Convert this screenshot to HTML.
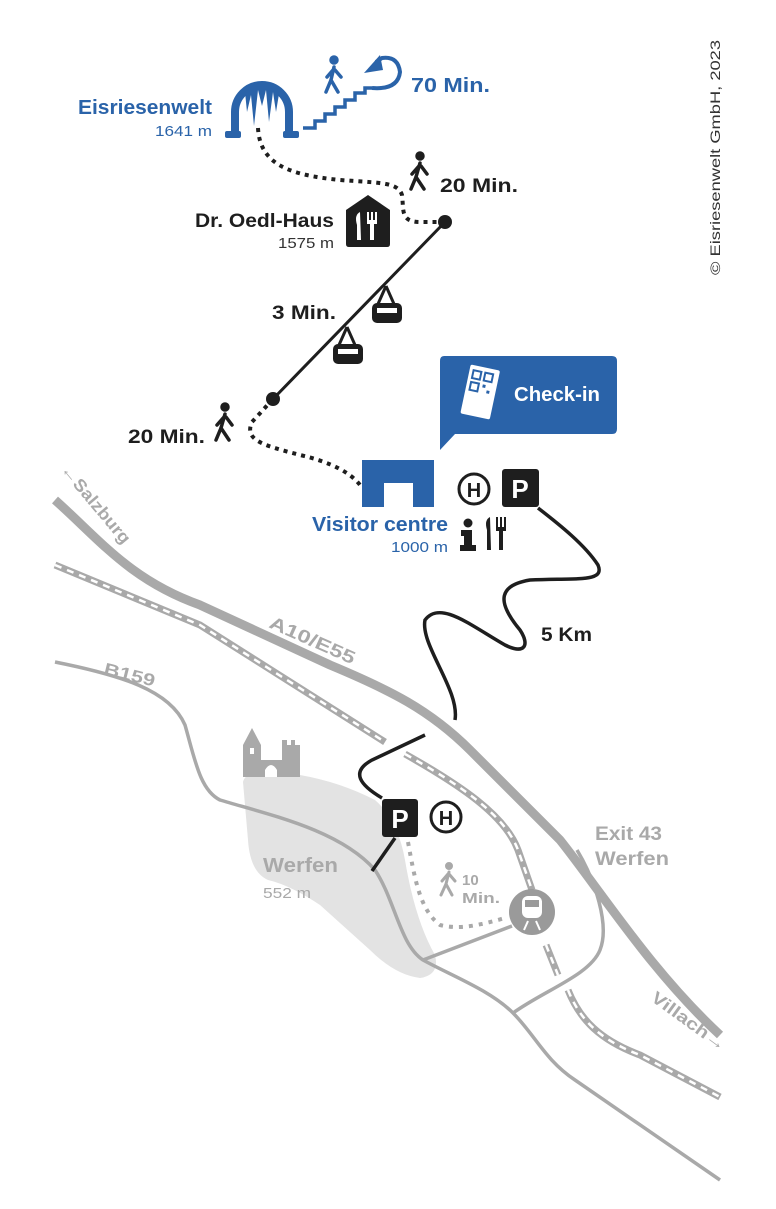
<!DOCTYPE html>
<html><head><meta charset="utf-8"><style>
html,body{margin:0;padding:0;background:#fff}
svg{display:block}
text{font-family:"Liberation Sans",sans-serif}
</style></head><body>
<svg width="776" height="1209" viewBox="0 0 776 1209" xmlns="http://www.w3.org/2000/svg">
<path d="M243,782 Q245,772 265,772 L300,775 Q340,782 375,800 Q398,820 405,860 Q415,920 435,955 Q440,975 420,978 Q395,975 370,950 L320,905 Q290,885 268,880 Q250,872 248,840 Z" fill="#e3e3e3"/>
<g fill="#a9a9a9">
<path d="M243,745 L252,728 L261,745 L261,760 L282,760 L282,740 L287,740 L287,745 L291,745 L291,740 L295,740 L295,745 L300,745 L300,777 L243,777 Z"/>
</g>
<path d="M265,777 L265,770 Q271,760 277,770 L277,777 Z" fill="#fff"/>
<rect x="250" y="748" width="4" height="6" fill="#fff"/>
<g fill="none" stroke="#a9a9a9" stroke-linecap="butt">
<path d="M55,500 C100,540 130,580 200,605 L330,665 C390,690 430,710 470,750 L560,840 C600,890 650,970 720,1035" stroke-width="9"/>
<path d="M55,565 L200,625 L385,742" stroke-width="7"/>
<path d="M405,754 C460,785 505,815 518,850 L532,890" stroke-width="7"/>
<path d="M546,945 L558,975" stroke-width="7"/>
<path d="M568,990 C580,1020 600,1040 640,1055 L720,1097" stroke-width="7"/>
<path d="M55,662 C120,675 170,690 185,725 C195,760 200,790 220,800 C270,815 340,830 375,870 C395,900 400,945 423,960 C450,975 490,990 513,1013 C535,1035 545,1060 575,1080 L720,1180" stroke-width="3.5"/>
<path d="M577,850 C595,880 610,925 600,950 C590,975 545,990 513,1013" stroke-width="3.5"/>
<path d="M423,960 L512,926" stroke-width="3.5"/>
</g>
<g fill="none" stroke="#fff" stroke-width="2.5" stroke-dasharray="7,6">
<path d="M55,565 L200,625 L385,742"/>
<path d="M405,754 C460,785 505,815 518,850 L532,890"/>
<path d="M546,945 L558,975"/>
<path d="M568,990 C580,1020 600,1040 640,1055 L720,1097"/>
</g>
<path d="M408,842 C415,880 420,910 440,925 C460,930 480,925 505,918" fill="none" stroke="#a9a9a9" stroke-width="4" stroke-dasharray="4,6"/>
<circle cx="532" cy="912" r="23" fill="#9a9a9a"/>
<rect x="522" y="896" width="20" height="22" rx="6" fill="#fff"/>
<rect x="525" y="900" width="14" height="7" fill="#9a9a9a"/>
<path d="M524,930 L528,921 M540,930 L536,921" stroke="#fff" stroke-width="2"/>
<g stroke="#a9a9a9" stroke-width="3" fill="none" stroke-linecap="round"><circle cx="449" cy="866" r="2.5" fill="#a9a9a9"/><path d="M449,872 L446,884 L441,895 M446,884 L452,895 M448,874 L442,881 M449,874 L455,881"/></g>
<g fill="#a9a9a9" font-weight="bold">
<text x="263" y="872" font-size="20" textLength="75" lengthAdjust="spacingAndGlyphs">Werfen</text>
<text x="263" y="898" font-size="15" font-weight="normal" textLength="48" lengthAdjust="spacingAndGlyphs">552 m</text>
<text x="462" y="885" font-size="15">10</text>
<text x="462" y="903" font-size="15" textLength="38" lengthAdjust="spacingAndGlyphs">Min.</text>
<text x="595" y="840" font-size="19" textLength="67" lengthAdjust="spacingAndGlyphs">Exit 43</text>
<text x="595" y="865" font-size="19" textLength="74" lengthAdjust="spacingAndGlyphs">Werfen</text>
<text transform="translate(268,627) rotate(24)" font-size="18" textLength="92" lengthAdjust="spacingAndGlyphs">A10/E55</text>
<text transform="translate(103,674) rotate(14)" font-size="17" textLength="52" lengthAdjust="spacingAndGlyphs">B159</text>
<text transform="translate(60,470) rotate(50)" font-size="17" textLength="98" lengthAdjust="spacingAndGlyphs">←Salzburg</text>
<text transform="translate(650,1000) rotate(36)" font-size="17" textLength="88" lengthAdjust="spacingAndGlyphs">Villach→</text>
</g>
<path d="M538,508 C560,525 585,545 598,565 C605,582 580,578 530,580 C500,585 495,600 520,630 C530,645 525,655 505,645 C470,625 440,600 425,620 C420,645 460,690 455,720 M425,735 L372,760 C350,772 360,785 382,798 M395,838 L372,871" fill="none" stroke="#1e1e1e" stroke-width="3.5"/>
<text x="541" y="641" font-size="19" font-weight="bold" fill="#1e1e1e" textLength="51" lengthAdjust="spacingAndGlyphs">5 Km</text>
<rect x="382" y="799" width="36" height="38" rx="3" fill="#1e1e1e"/>
<text x="400" y="828" font-size="26" font-weight="bold" fill="#fff" text-anchor="middle">P</text>
<circle cx="446" cy="817" r="15" fill="none" stroke="#1e1e1e" stroke-width="3"/>
<text x="446" y="825" font-size="20" font-weight="bold" fill="#1e1e1e" text-anchor="middle">H</text>
<path d="M362,460 L434,460 L434,507 L413,507 L413,483 L384,483 L384,507 L362,507 Z" fill="#2a63a9"/>
<text x="312" y="531" font-size="20" font-weight="bold" fill="#2a63a9" textLength="136" lengthAdjust="spacingAndGlyphs">Visitor centre</text>
<text x="391" y="552" font-size="15" fill="#2a63a9" textLength="57" lengthAdjust="spacingAndGlyphs">1000 m</text>
<circle cx="474" cy="489" r="15" fill="none" stroke="#1e1e1e" stroke-width="3"/>
<text x="474" y="497" font-size="20" font-weight="bold" fill="#1e1e1e" text-anchor="middle">H</text>
<rect x="502" y="469" width="37" height="38" rx="3" fill="#1e1e1e"/>
<text x="520" y="498" font-size="26" font-weight="bold" fill="#fff" text-anchor="middle">P</text>
<g fill="#1e1e1e"><circle cx="468" cy="523" r="4.5"/><path d="M461,530 L472,530 L472,545 L476,545 L476,551 L460,551 L460,545 L464,545 L464,536 L461,536 Z"/></g>
<g fill="#1e1e1e"><path d="M487,550 L487,530 Q484,520 490,517 L491,550 Z"/><rect x="496" y="517" width="2" height="12"/><rect x="500" y="517" width="2" height="12"/><rect x="504" y="517" width="2" height="12"/><rect x="496" y="527" width="10" height="4"/><rect x="499" y="528" width="4" height="22"/></g>
<path d="M444,356 L612,356 Q617,356 617,361 L617,429 Q617,434 612,434 L455,434 L440,450 L440,361 Q440,356 444,356 Z" fill="#2a63a9"/>
<g transform="rotate(12,480,393)"><rect x="465" y="367" width="30" height="50" rx="2" fill="#fff"/>
<g fill="none" stroke="#2a63a9" stroke-width="2"><rect x="469" y="372" width="8" height="8"/><rect x="481" y="372" width="8" height="8"/><rect x="469" y="384" width="8" height="8"/></g>
<rect x="481" y="384" width="3" height="3" fill="#2a63a9"/><rect x="486" y="389" width="3" height="3" fill="#2a63a9"/></g>
<text x="514" y="401" font-size="20" font-weight="bold" fill="#fff" textLength="86" lengthAdjust="spacingAndGlyphs">Check-in</text>
<g fill="none" stroke="#1e1e1e" stroke-width="4" stroke-dasharray="4,5">
<path d="M273,399 L252,422 C244,440 262,445 300,455 C330,462 350,472 360,485"/>
<path d="M258,128 C260,165 290,175 340,180 C380,183 398,182 402,195 C404,210 400,222 420,222 L443,222"/>
</g>
<line x1="445" y1="222" x2="273" y2="399" stroke="#1e1e1e" stroke-width="3"/>
<circle cx="445" cy="222" r="7" fill="#1e1e1e"/>
<circle cx="273" cy="399" r="7" fill="#1e1e1e"/>
<g fill="#1e1e1e">
<path d="M386,286 L378,304 M386,286 L394,304" stroke="#1e1e1e" stroke-width="3"/>
<rect x="372" y="303" width="30" height="20" rx="5"/><rect x="377" y="308" width="20" height="5" fill="#fff"/>
<path d="M347,327 L339,345 M347,327 L355,345" stroke="#1e1e1e" stroke-width="3"/>
<rect x="333" y="344" width="30" height="20" rx="5"/><rect x="338" y="349" width="20" height="5" fill="#fff"/>
</g>
<text x="272" y="319" font-size="19" font-weight="bold" fill="#1e1e1e" textLength="64" lengthAdjust="spacingAndGlyphs">3 Min.</text>
<path d="M346,210 L368,195 L390,210 L390,244 Q390,247 387,247 L349,247 Q346,247 346,244 Z" fill="#1e1e1e"/>
<g fill="#fff"><path d="M357,240 L357,225 Q354,215 360,212 L361,240 Z"/><rect x="367" y="212" width="2" height="10"/><rect x="371" y="212" width="2" height="10"/><rect x="375" y="212" width="2" height="10"/><rect x="367" y="220" width="10" height="4"/><rect x="370" y="222" width="4" height="18"/></g>
<text x="195" y="227" font-size="19" font-weight="bold" fill="#1e1e1e" textLength="139" lengthAdjust="spacingAndGlyphs">Dr. Oedl-Haus</text>
<text x="278" y="248" font-size="15" fill="#333" textLength="56" lengthAdjust="spacingAndGlyphs">1575 m</text>
<g stroke="#1e1e1e" stroke-width="3.5" fill="none" stroke-linecap="round">
<circle cx="420" cy="156" r="3" fill="#1e1e1e"/><path d="M420,163 L416,177 L411,189 M416,177 L424,189 M419,166 L412,174 M421,166 L427,174"/>
<circle cx="225" cy="407" r="3" fill="#1e1e1e"/><path d="M225,414 L221,428 L216,440 M221,428 L229,440 M224,417 L217,425 M226,417 L232,425"/>
</g>
<text x="440" y="192" font-size="19" font-weight="bold" fill="#1e1e1e" textLength="78" lengthAdjust="spacingAndGlyphs">20 Min.</text>
<text x="128" y="443" font-size="19" font-weight="bold" fill="#1e1e1e" textLength="77" lengthAdjust="spacingAndGlyphs">20 Min.</text>
<!-- cave -->
<path d="M235,134 L235,112 A27,27 0 0 1 289,112 L289,134" fill="none" stroke="#2a63a9" stroke-width="8"/>
<g fill="#2a63a9">
<rect x="225" y="131" width="16" height="7" rx="2"/>
<rect x="283" y="131" width="16" height="7" rx="2"/>
<path d="M245,92 L247,112 L251,95 L254,126 L258,90 L262,106 L266,90 L269,122 L273,92 L276,112 L279,94 L282,100 Q273,86 262,86 Q251,86 245,92 Z"/>
</g>
<text x="78" y="114" font-size="20" font-weight="bold" fill="#2a63a9" textLength="134" lengthAdjust="spacingAndGlyphs">Eisriesenwelt</text>
<text x="155" y="136" font-size="15" fill="#2a63a9" textLength="57" lengthAdjust="spacingAndGlyphs">1641 m</text>
<path d="M303,128 L315,128 L315,121 L325,121 L325,114 L335,114 L335,107 L345,107 L345,100 L355,100 L355,93 L365,93 L365,88 L372,88" fill="none" stroke="#2a63a9" stroke-width="3.5"/>
<path d="M372,88 Q398,90 400,72 Q398,56 382,58 L376,62" fill="none" stroke="#2a63a9" stroke-width="4"/>
<path d="M364,73 L380,55 L383,70 Z" fill="#2a63a9"/>
<g stroke="#2a63a9" stroke-width="3.5" fill="none" stroke-linecap="round">
<circle cx="334" cy="60" r="3" fill="#2a63a9"/><path d="M334,67 L331,80 L326,92 M331,80 L338,92 M333,70 L327,77 M335,70 L341,77"/>
</g>
<text x="411" y="92" font-size="20" font-weight="bold" fill="#2a63a9" textLength="79" lengthAdjust="spacingAndGlyphs">70 Min.</text>
<text transform="translate(720,275) rotate(-90)" font-size="14" fill="#333" textLength="235" lengthAdjust="spacingAndGlyphs">© Eisriesenwelt GmbH, 2023</text>
</svg>
</body></html>
